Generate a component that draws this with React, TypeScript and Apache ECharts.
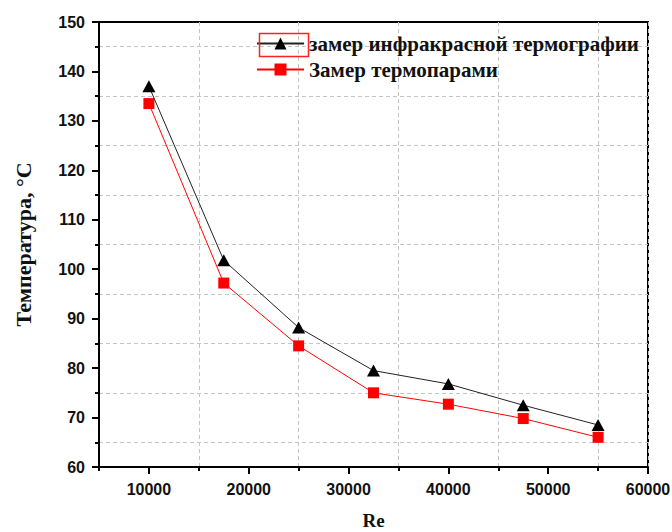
import React, { useEffect, useRef } from "react";
import * as echarts from "echarts";

const reValues = [10000, 17500, 25000, 32500, 40000, 47500, 55000];
const irValues = [137, 101.8, 88.2, 79.5, 76.8, 72.5, 68.5];
const tcValues = [133.5, 97.2, 84.5, 75, 72.7, 69.8, 66];
const xLabelValues = [10000, 20000, 30000, 40000, 50000, 60000];
const seriesNames = ["замер инфракрасной термографии", "Замер термопарами"];
const xTitle = "Re";
const yTitle = "Температура, °C";

export default function App() {
  const ref = useRef<HTMLDivElement>(null);
  useEffect(() => {
    document.body.style.margin = "0";
    const chart = echarts.init(ref.current!, null, { renderer: "svg" });
    const labelFont = {
      fontFamily: "Liberation Sans",
      fontWeight: "bold" as const,
      fontSize: 16,
      color: "#111",
    };
    const serif = {
      fontFamily: "Liberation Serif",
      fontWeight: "bold" as const,
      color: "#111",
    };
    const gridLine = { lineStyle: { color: "#c4c4c4", type: [4, 3] as any, width: 1 } };
    chart.setOption({
      animation: false,
      backgroundColor: "#fff",
      grid: {
        left: 99,
        right: 24,
        top: 22,
        bottom: 65,
        outerBoundsMode: "none",
        containLabel: false,
        show: true,
        borderColor: "#000",
        borderWidth: 2,
        backgroundColor: "transparent",
      },
      legend: {
        orient: "vertical",
        left: 251,
        top: 28,
        itemWidth: 47,
        itemHeight: 15,
        itemGap: 5,
        data: seriesNames,
        textStyle: { ...serif, fontSize: 21 },
      },
      xAxis: [
        {
          type: "value",
          min: 5000,
          max: 60000,
          interval: 10000,
          position: "bottom",
          axisLine: { show: true, lineStyle: { color: "#000", width: 2 } },
          axisTick: { show: true, inside: false, length: 4, lineStyle: { color: "#000", width: 2 } },
          axisLabel: { show: false },
          splitLine: { show: true, ...gridLine },
          name: xTitle,
          nameLocation: "middle",
          nameGap: 44,
          nameTextStyle: { ...serif, fontSize: 19 },
        },
        {
          type: "value",
          min: 5000,
          max: 60000,
          interval: 5000,
          position: "bottom",
          offset: 0,
          axisLine: { show: false },
          axisTick: {
            show: true,
            inside: false,
            length: 7,
            customValues: xLabelValues,
            lineStyle: { color: "#000", width: 2 },
          },
          axisLabel: {
            show: true,
            customValues: xLabelValues,
            margin: 14,
            formatter: (v: number) => String(v),
            ...labelFont,
          },
          splitLine: { show: false },
        },
      ],
      yAxis: {
        type: "value",
        min: 60,
        max: 150,
        interval: 10,
        axisLine: { show: true, lineStyle: { color: "#000", width: 2 } },
        axisTick: { show: true, inside: false, length: 7, lineStyle: { color: "#000", width: 2 } },
        minorTick: { show: true, splitNumber: 2, length: 4, lineStyle: { color: "#000", width: 2 } },
        minorSplitLine: { show: true, ...gridLine },
        splitLine: { show: false },
        axisLabel: { margin: 14, ...labelFont },
        name: yTitle,
        nameLocation: "middle",
        nameGap: 65,
        nameTextStyle: { ...serif, fontSize: 22 },
      },
      graphic: [
        {
          type: "rect",
          left: 257,
          top: 31,
          shape: { width: 49, height: 23 },
          style: { fill: "none", stroke: "#ff2020", lineWidth: 1.5 },
          z: 100,
        },
      ],
      series: [
        {
          name: seriesNames[0],
          type: "line",
          xAxisIndex: 0,
          data: reValues.map((x, i) => [x, irValues[i]]),
          symbol: "triangle",
          symbolSize: [13, 12],
          itemStyle: { color: "#000" },
          lineStyle: { color: "#222", width: 1 },
          z: 3,
        },
        {
          name: seriesNames[1],
          type: "line",
          xAxisIndex: 0,
          data: reValues.map((x, i) => [x, tcValues[i]]),
          symbol: "rect",
          symbolSize: 11,
          itemStyle: { color: "#ff0000" },
          lineStyle: { color: "#ff0000", width: 1 },
          z: 2,
        },
      ],
    });
    return () => chart.dispose();
  }, []);
  return <div ref={ref} style={{ width: 672, height: 532 }} />;
}
